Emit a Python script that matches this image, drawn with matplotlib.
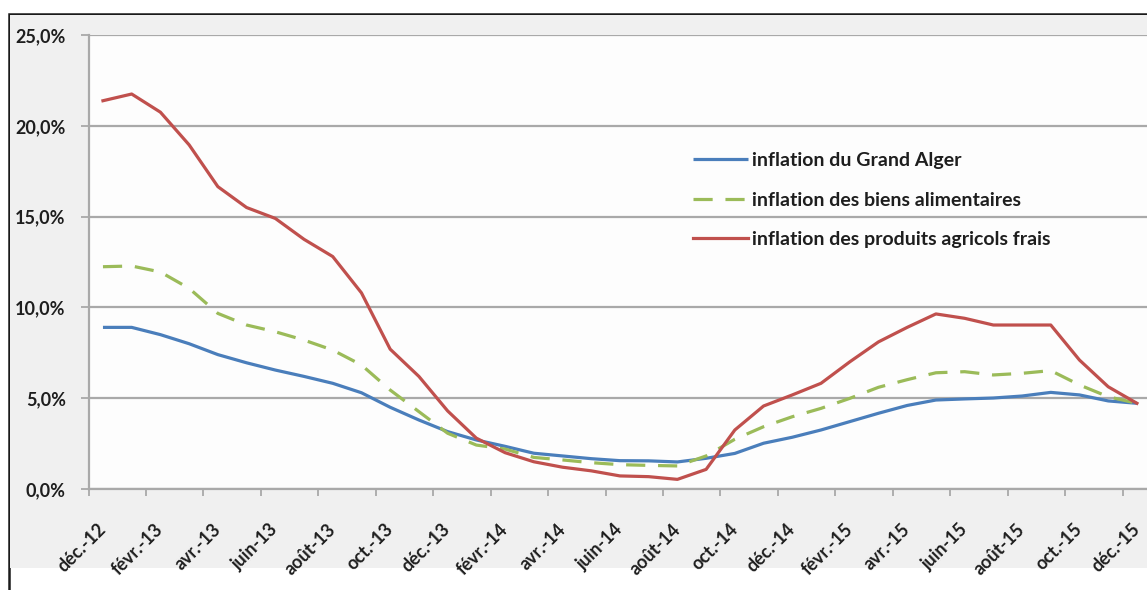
import matplotlib
matplotlib.use("Agg")
import matplotlib.pyplot as plt
from matplotlib.patches import Rectangle
from matplotlib.ticker import FixedLocator, FuncFormatter
import numpy as np

# Monthly series, Dec 2012 - Dec 2015 (year-on-year, in %)
months = [
    "déc.-12", "janv.-13", "févr.-13", "mars-13", "avr.-13", "mai-13", "juin-13",
    "juil.-13", "août-13", "sept.-13", "oct.-13", "nov.-13", "déc.-13",
    "janv.-14", "févr.-14", "mars-14", "avr.-14", "mai-14", "juin-14",
    "juil.-14", "août-14", "sept.-14", "oct.-14", "nov.-14", "déc.-14",
    "janv.-15", "févr.-15", "mars-15", "avr.-15", "mai-15", "juin-15",
    "juil.-15", "août-15", "sept.-15", "oct.-15", "nov.-15", "déc.-15",
]

inflation_grand_alger = [
    8.9, 8.9, 8.5, 8.0, 7.4, 6.95, 6.55, 6.2, 5.82, 5.3, 4.5, 3.8, 3.16,
    2.7, 2.35, 1.97, 1.82, 1.67, 1.56, 1.55, 1.49, 1.69, 1.96, 2.52, 2.85,
    3.25, 3.71, 4.17, 4.6, 4.9, 4.96, 5.01, 5.12, 5.32, 5.18, 4.85, 4.72,
]

inflation_biens_alimentaires = [
    12.24, 12.28, 11.95, 11.05, 9.67, 9.03, 8.66, 8.2, 7.65, 6.83, 5.45, 4.26, 3.07,
    2.42, 2.2, 1.74, 1.6, 1.45, 1.34, 1.3, 1.27, 1.82, 2.74, 3.43, 3.98,
    4.44, 4.99, 5.6, 6.02, 6.4, 6.46, 6.28, 6.37, 6.52, 5.73, 5.08, 4.72,
]

inflation_produits_agricoles = [
    21.38, 21.75, 20.75, 18.95, 16.65, 15.5, 14.9, 13.75, 12.8, 10.8, 7.7, 6.2, 4.3,
    2.8, 2.0, 1.5, 1.2, 1.0, 0.72, 0.68, 0.53, 1.08, 3.25, 4.57, 5.18,
    5.82, 7.0, 8.1, 8.9, 9.64, 9.4, 9.03, 9.03, 9.03, 7.1, 5.63, 4.72,
]

series_labels = [
    "inflation du Grand Alger",
    "inflation des biens alimentaires",
    "inflation des produits agricols frais",
]

y_ticks = [0, 5, 10, 15, 20, 25]

BLUE = "#4A7EBB"
GREEN = "#9BBB59"
RED = "#C0504D"
GRID = "#A9A9A9"
TEXT = "#1E1E1E"

plt.rcParams["font.family"] = ["Lato", "DejaVu Sans"]
plt.rcParams["font.weight"] = "bold"

W, H = 1147, 590
fig = plt.figure(figsize=(W / 100, H / 100), dpi=100, facecolor="white")


def fx(px):
    return px / W


def fy(py):
    return 1 - py / H


# outer frame and grey chart area (behind the axes)
fig.patches.append(Rectangle((fx(8.5), -0.1), 1.2, fy(13.5) + 0.1,
                             transform=fig.transFigure, facecolor="white",
                             edgecolor="#1A1A1A", lw=1.8, zorder=-2))
fig.patches.append(Rectangle((fx(9.5), fy(568)), 1.2, fy(15) - fy(568),
                             transform=fig.transFigure, facecolor="#F0F0F0",
                             edgecolor="none", zorder=-1))

left, right = 88.6, 1151.3
top, bottom = 35, 489
ax = fig.add_axes([fx(left), fy(bottom), fx(right - left), (bottom - top) / H])
ax.set_facecolor("#FDFDFD")

x = np.arange(len(months))
ax.plot(x, inflation_grand_alger, color=BLUE, lw=2.3, solid_capstyle="butt",
        label=series_labels[0], zorder=3)
ax.plot(x, inflation_biens_alimentaires, color=GREEN, lw=2.3,
        linestyle=(0, (6, 4)), dash_capstyle="butt",
        label=series_labels[1], zorder=3)
ax.plot(x, inflation_produits_agricoles, color=RED, lw=2.3,
        label=series_labels[2], zorder=3)

ax.set_xlim(-0.5, len(months) - 0.5)
ax.set_ylim(0, 25)

# horizontal gridlines
ax.set_yticks(y_ticks)
ax.yaxis.set_major_formatter(FuncFormatter(lambda v, _: f"{v:.1f}%".replace(".", ",")))
ax.grid(axis="y", color=GRID, lw=1.6, zorder=1)
ax.set_axisbelow(True)

# category labels every two months, tick marks on category boundaries
label_pos = x[::2]
ax.xaxis.set_major_locator(FixedLocator(label_pos))
ax.set_xticklabels([months[i] for i in label_pos])
ax.xaxis.set_minor_locator(FixedLocator(np.arange(-0.5, len(months), 2)))
ax.tick_params(axis="x", which="major", length=0, pad=27, labelsize=13,
               labelcolor=TEXT)
ax.tick_params(axis="x", which="minor", length=5, width=1.3, color=GRID,
               direction="out")
for lab in ax.get_xticklabels():
    lab.set_rotation(45)
    lab.set_ha("right")
    lab.set_va("center")
    lab.set_rotation_mode("anchor")
    lab.set_fontweight("bold")

ax.tick_params(axis="y", length=6, width=1.3, color=GRID, pad=10.5,
               labelsize=13, labelcolor=TEXT)
for lab in ax.get_yticklabels():
    lab.set_fontweight("bold")

for side in ("top", "right"):
    ax.spines[side].set_visible(False)
for side in ("left", "bottom"):
    ax.spines[side].set_color(GRID)
    ax.spines[side].set_linewidth(1.6)

leg = ax.legend(loc="upper left", bbox_to_anchor=(fx(693), fy(152)),
                bbox_transform=fig.transFigure, frameon=False, borderpad=0,
                borderaxespad=0, handlelength=2.85, handletextpad=0.2,
                labelspacing=1.16, prop={"weight": "bold", "size": 14})
for t in leg.get_texts():
    t.set_color(TEXT)

fig.savefig("out.png", dpi=100, facecolor="white")
